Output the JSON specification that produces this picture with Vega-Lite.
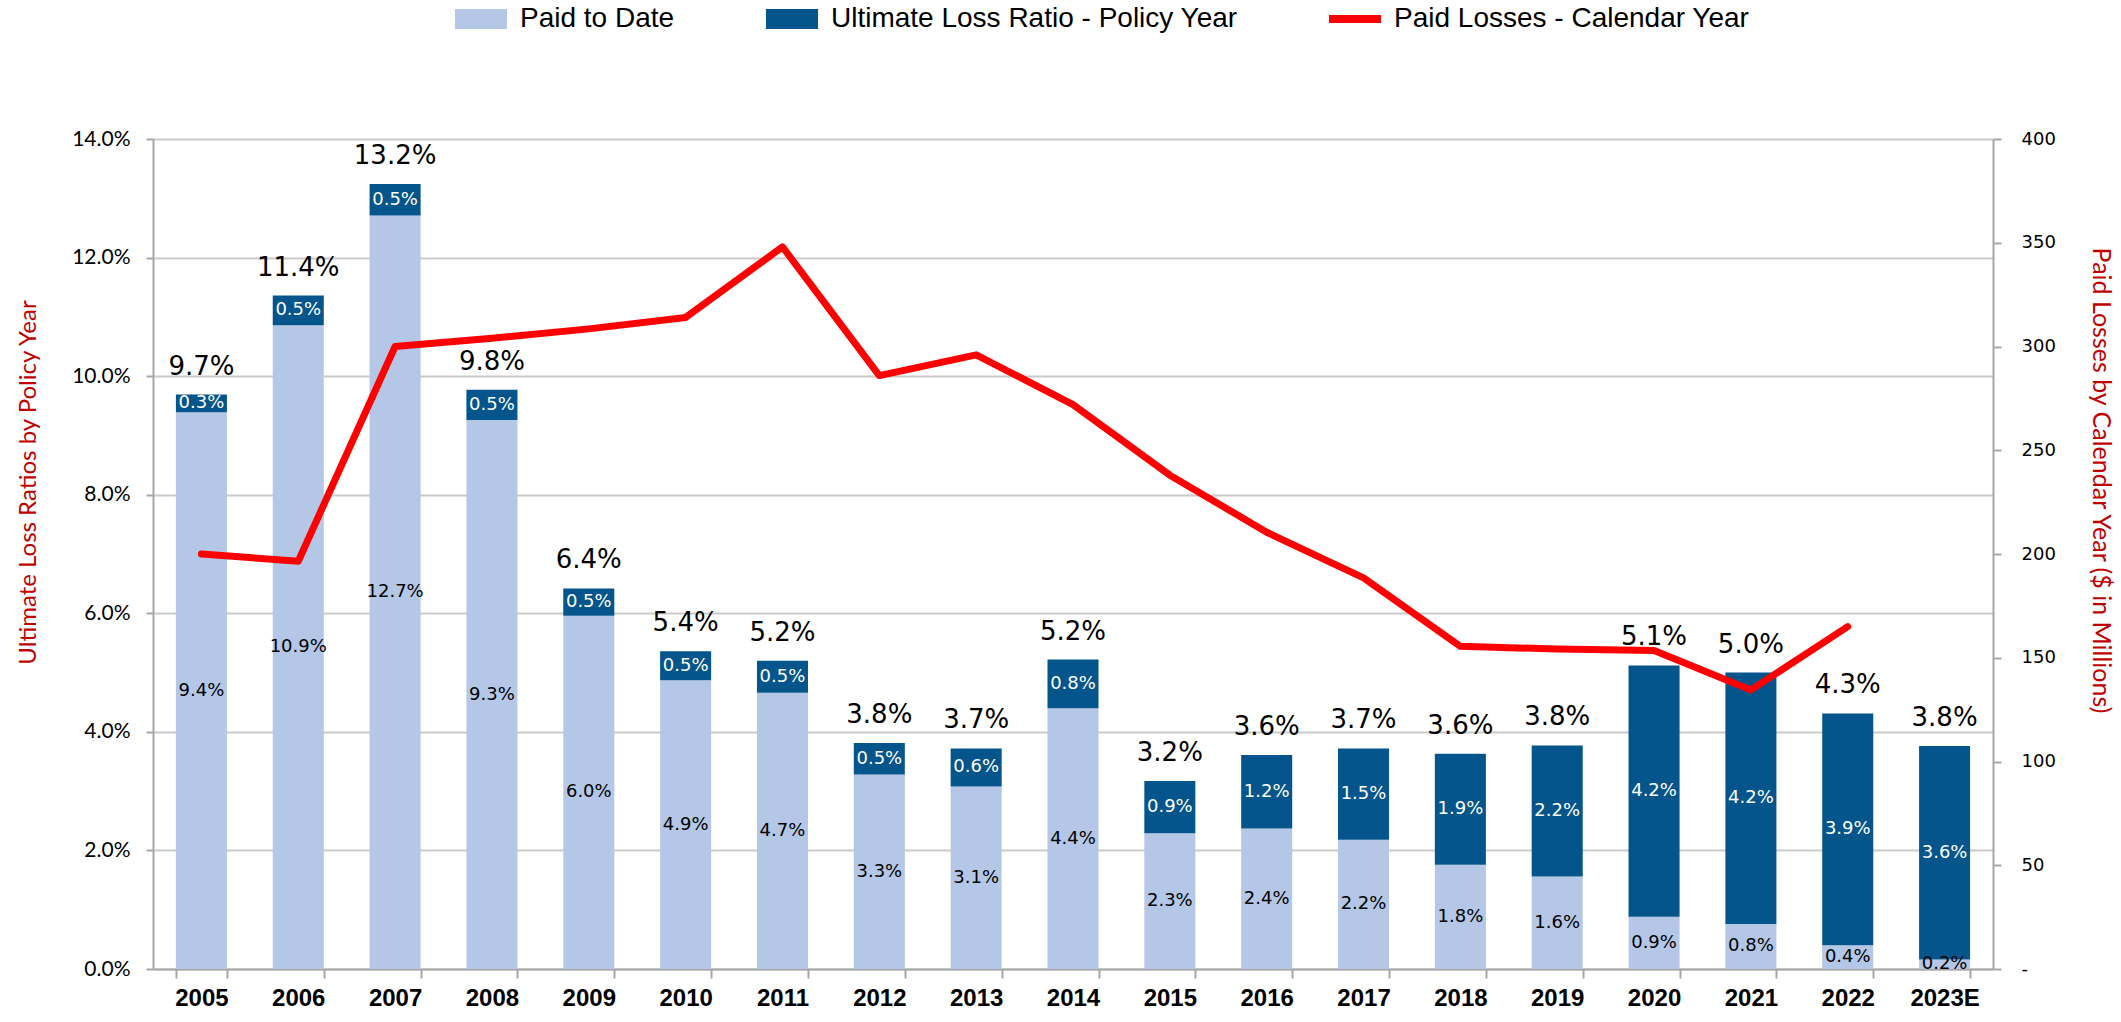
{
  "$schema": "https://vega.github.io/schema/vega-lite/v6.json",
  "width": 1840,
  "height": 830,
  "autosize": {"type": "none"},
  "padding": {"left": 153, "top": 139, "right": 128, "bottom": 53},
  "background": "white",
  "config": {"view": {"stroke": null}, "font": "Lato"},
  "datasets": {
    "bars": [
      {"year": "2005", "series": "Paid to Date", "value": 0.0939},
      {"year": "2005", "series": "Ultimate Loss Ratio - Policy Year", "value": 0.0030},
      {"year": "2006", "series": "Paid to Date", "value": 0.1086},
      {"year": "2006", "series": "Ultimate Loss Ratio - Policy Year", "value": 0.0050},
      {"year": "2007", "series": "Paid to Date", "value": 0.1271},
      {"year": "2007", "series": "Ultimate Loss Ratio - Policy Year", "value": 0.0053},
      {"year": "2008", "series": "Paid to Date", "value": 0.0926},
      {"year": "2008", "series": "Ultimate Loss Ratio - Policy Year", "value": 0.0051},
      {"year": "2009", "series": "Paid to Date", "value": 0.0596},
      {"year": "2009", "series": "Ultimate Loss Ratio - Policy Year", "value": 0.0046},
      {"year": "2010", "series": "Paid to Date", "value": 0.0487},
      {"year": "2010", "series": "Ultimate Loss Ratio - Policy Year", "value": 0.0049},
      {"year": "2011", "series": "Paid to Date", "value": 0.0466},
      {"year": "2011", "series": "Ultimate Loss Ratio - Policy Year", "value": 0.0054},
      {"year": "2012", "series": "Paid to Date", "value": 0.0328},
      {"year": "2012", "series": "Ultimate Loss Ratio - Policy Year", "value": 0.0053},
      {"year": "2013", "series": "Paid to Date", "value": 0.0308},
      {"year": "2013", "series": "Ultimate Loss Ratio - Policy Year", "value": 0.0064},
      {"year": "2014", "series": "Paid to Date", "value": 0.0440},
      {"year": "2014", "series": "Ultimate Loss Ratio - Policy Year", "value": 0.0082},
      {"year": "2015", "series": "Paid to Date", "value": 0.0229},
      {"year": "2015", "series": "Ultimate Loss Ratio - Policy Year", "value": 0.0088},
      {"year": "2016", "series": "Paid to Date", "value": 0.0237},
      {"year": "2016", "series": "Ultimate Loss Ratio - Policy Year", "value": 0.0124},
      {"year": "2017", "series": "Paid to Date", "value": 0.0218},
      {"year": "2017", "series": "Ultimate Loss Ratio - Policy Year", "value": 0.0154},
      {"year": "2018", "series": "Paid to Date", "value": 0.0176},
      {"year": "2018", "series": "Ultimate Loss Ratio - Policy Year", "value": 0.0187},
      {"year": "2019", "series": "Paid to Date", "value": 0.0156},
      {"year": "2019", "series": "Ultimate Loss Ratio - Policy Year", "value": 0.0221},
      {"year": "2020", "series": "Paid to Date", "value": 0.0088},
      {"year": "2020", "series": "Ultimate Loss Ratio - Policy Year", "value": 0.0424},
      {"year": "2021", "series": "Paid to Date", "value": 0.0076},
      {"year": "2021", "series": "Ultimate Loss Ratio - Policy Year", "value": 0.0424},
      {"year": "2022", "series": "Paid to Date", "value": 0.0040},
      {"year": "2022", "series": "Ultimate Loss Ratio - Policy Year", "value": 0.0391},
      {"year": "2023E", "series": "Paid to Date", "value": 0.0016},
      {"year": "2023E", "series": "Ultimate Loss Ratio - Policy Year", "value": 0.0360}
    ],
    "years": [
      {"year": "2005", "total": 0.0969, "losses": 200},
      {"year": "2006", "total": 0.1136, "losses": 196.5},
      {"year": "2007", "total": 0.1324, "losses": 300},
      {"year": "2008", "total": 0.0977, "losses": 304},
      {"year": "2009", "total": 0.0642, "losses": 308.5},
      {"year": "2010", "total": 0.0536, "losses": 314},
      {"year": "2011", "total": 0.0520, "losses": 348},
      {"year": "2012", "total": 0.0381, "losses": 286},
      {"year": "2013", "total": 0.0372, "losses": 296},
      {"year": "2014", "total": 0.0522, "losses": 272},
      {"year": "2015", "total": 0.0317, "losses": 238},
      {"year": "2016", "total": 0.0361, "losses": 210.5},
      {"year": "2017", "total": 0.0372, "losses": 188.5},
      {"year": "2018", "total": 0.0363, "losses": 155.5},
      {"year": "2019", "total": 0.0377, "losses": 154.2},
      {"year": "2020", "total": 0.0512, "losses": 153.5},
      {"year": "2021", "total": 0.0500, "losses": 134.5},
      {"year": "2022", "total": 0.0431, "losses": 165},
      {"year": "2023E", "total": 0.0376, "losses": null}
    ]
  },
  "encoding": {
    "x": {
      "field": "year",
      "type": "nominal",
      "scale": {"paddingInner": 0.473, "paddingOuter": 0.2365},
      "axis": {
        "title": null,
        "labelAngle": 0,
        "labelFont": "Liberation Sans",
        "labelFontWeight": "bold",
        "labelFontSize": 24,
        "labelColor": "black",
        "labelPadding": 8,
        "tickBand": "extent",
        "tickSize": 9,
        "tickColor": "#A6A6A6",
        "tickWidth": 2,
        "domainColor": "#A6A6A6",
        "domainWidth": 2,
        "grid": false
      }
    }
  },
  "layer": [
    {
      "layer": [
        {
          "data": {"name": "bars"},
          "mark": {"type": "bar"},
          "encoding": {
            "y": {
              "field": "value",
              "type": "quantitative",
              "stack": "zero",
              "scale": {"domain": [0, 0.14], "nice": false},
              "axis": {
                "title": "Ultimate Loss Ratios by Policy Year",
                "titleColor": "#C00000",
                "titleFont": "Lato",
                "titleFontSize": 24,
                "titleFontWeight": "normal",
                "titlePadding": 31,
                "titleY": 343,
                "format": ".1%",
                "values": [0, 0.02, 0.04, 0.06, 0.08, 0.1, 0.12, 0.14],
                "labelFont": "Lato",
                "labelFontSize": 21,
                "labelColor": "black",
                "labelPadding": 16,
                "tickSize": 7,
                "tickColor": "#A6A6A6",
                "tickWidth": 2,
                "domainColor": "#A6A6A6",
                "domainWidth": 2,
                "grid": true,
                "gridColor": "#CACACA",
                "gridWidth": 2
              }
            },
            "order": {"field": "series", "sort": "ascending"},
            "color": {
              "field": "series",
              "type": "nominal",
              "scale": {
                "domain": ["Paid to Date", "Ultimate Loss Ratio - Policy Year", "Paid Losses - Calendar Year"],
                "range": ["#B4C7E7", "#04558C", "#FF0000"]
              },
              "legend": {
                "orient": "none",
                "legendX": 302,
                "legendY": -146,
                "direction": "horizontal",
                "columns": 3,
                "title": null,
                "padding": 0,
                "labelFont": "Liberation Sans",
                "labelFontSize": 28,
                "labelLimit": 800,
                "labelColor": "black",
                "labelOffset": 13,
                "columnPadding": 91,
                "symbolSize": 2704,
                "symbolStrokeWidth": 0,
                "encode": {
                  "symbols": {
                    "update": {
                      "shape": {"signal": "datum.value === 'Paid Losses - Calendar Year' ? 'M-1,-0.15H1V0.15H-1Z' : 'M-1,-0.385H1V0.385H-1Z'"},
                      "fill": {"signal": "scale('color', datum.value)"},
                      "stroke": {"value": "transparent"},
                      "opacity": {"value": 1}
                    }
                  }
                }
              }
            }
          }
        },
        {
          "data": {"name": "bars"},
          "mark": {"type": "text", "font": "DejaVu Sans", "fontSize": 18, "baseline": "middle"},
          "encoding": {
            "y": {"field": "value", "type": "quantitative", "stack": "zero", "bandPosition": 0.5, "scale": {"domain": [0, 0.14], "nice": false}},
            "order": {"field": "series", "sort": "ascending"},
            "detail": {"field": "series", "type": "nominal"},
            "text": {"field": "value", "type": "quantitative", "format": ".1%"},
            "color": {
              "condition": {"test": "datum.series === 'Paid to Date'", "value": "black"},
              "value": "white"
            }
          }
        },
        {
          "data": {"name": "years"},
          "mark": {"type": "text", "font": "DejaVu Sans", "fontSize": 26, "baseline": "alphabetic", "dy": -20, "color": "black"},
          "encoding": {
            "y": {"field": "total", "type": "quantitative", "scale": {"domain": [0, 0.14], "nice": false}},
            "text": {"field": "total", "type": "quantitative", "format": ".1%"}
          }
        }
      ]
    },
    {
      "data": {"name": "years"},
      "mark": {"type": "line", "strokeWidth": 7, "strokeCap": "round", "strokeJoin": "round"},
      "encoding": {
        "y": {
          "field": "losses",
          "type": "quantitative",
          "scale": {"domain": [0, 400], "nice": false},
          "axis": {
            "orient": "right",
            "title": "Paid Losses by Calendar Year ($ in Millions)",
            "titleColor": "#C00000",
            "titleFont": "Lato",
            "titleFontSize": 25,
            "titleFontWeight": "normal",
            "titlePadding": 32,
            "titleY": 341,
            "values": [0, 50, 100, 150, 200, 250, 300, 350, 400],
            "labelExpr": "datum.value === 0 ? '-' : datum.label",
            "labelFont": "DejaVu Sans",
            "labelFontSize": 18,
            "labelColor": "black",
            "labelPadding": 20,
            "tickSize": 8,
            "tickColor": "#A6A6A6",
            "tickWidth": 2,
            "domainColor": "#A6A6A6",
            "domainWidth": 2,
            "grid": false
          }
        },
        "color": {"datum": "Paid Losses - Calendar Year"}
      }
    }
  ],
  "resolve": {"scale": {"y": "independent"}}
}
